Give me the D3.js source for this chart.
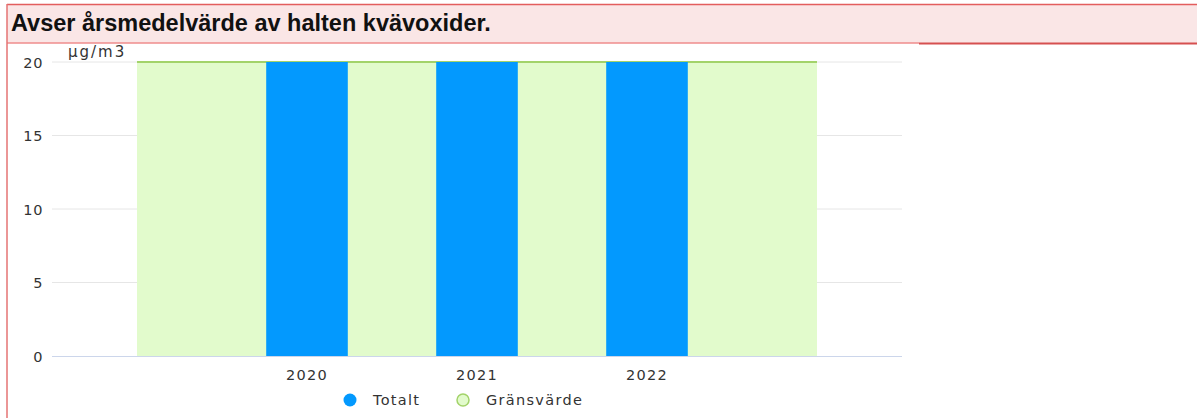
<!DOCTYPE html>
<html>
<head>
<meta charset="utf-8">
<script src="https://cdn.jsdelivr.net/npm/d3@7"></script>
<style>
  body { margin: 0; background: #fff; }
  svg { display: block; }
  .tick text { font-family: "DejaVu Sans", sans-serif; font-size: 14.5px; letter-spacing: 1.3px; fill: #333; }
</style>
</head>
<body>
<div id="wrapper"></div>
<script>
// data
const titleText = "Avser årsmedelvärde av halten kvävoxider."
const unitLabel = "µg/m3"
const categories = ["", "2020", "2021", "2022", ""]
const totalt = [null, 20, 20, 20, null]
const gransvarde = [20, 20, 20, 20, 20]
const yTicks = [0, 5, 10, 15, 20]
const seriesNames = ["Totalt", "Gränsvärde"]

const width = 1197
const height = 418
let dimensions = {
  width: width,
  height: height,
  margin: { top: 62, right: 295, bottom: 62, left: 52 },
}
dimensions.boundedWidth = dimensions.width - dimensions.margin.left - dimensions.margin.right
dimensions.boundedHeight = dimensions.height - dimensions.margin.top - dimensions.margin.bottom

const blue = "#0399fe"
const greenFill = "#e2fbcc"
const greenLine = "#a3d36a"

const wrapper = d3.select("#wrapper")
  .append("svg")
  .attr("width", width)
  .attr("height", height)

// title bar
wrapper.append("rect")
  .attr("x", 7).attr("y", 4)
  .attr("width", width).attr("height", 39)
  .attr("fill", "#fae6e6")
wrapper.append("line")
  .attr("x1", 7).attr("x2", width).attr("y1", 4.5).attr("y2", 4.5)
  .attr("stroke", "#e35d5d").attr("stroke-width", 1.5)
wrapper.append("line")
  .attr("x1", 7).attr("x2", 919).attr("y1", 43).attr("y2", 43)
  .attr("stroke", "#ef8c8c").attr("stroke-width", 1.5)
wrapper.append("line")
  .attr("x1", 919).attr("x2", width).attr("y1", 43.5).attr("y2", 43.5)
  .attr("stroke", "#d65050").attr("stroke-width", 1.8)
wrapper.append("line")
  .attr("x1", 7).attr("x2", 7).attr("y1", 4).attr("y2", height)
  .attr("stroke", "#e57373").attr("stroke-width", 1.5)
wrapper.append("text")
  .attr("x", 11).attr("y", 31)
  .attr("font-family", "Liberation Sans, Arial, sans-serif")
  .attr("font-weight", "bold")
  .attr("font-size", 23.5)
  .attr("fill", "#111")
  .text(titleText)

const bounds = wrapper.append("g")
  .attr("transform", `translate(${dimensions.margin.left}, ${dimensions.margin.top})`)

// scales
const xScale = d3.scaleBand()
  .domain(d3.range(categories.length))
  .range([0, dimensions.boundedWidth])
  .padding(0)
const xCenter = i => xScale(i) + xScale.bandwidth() / 2

const yScale = d3.scaleLinear()
  .domain([0, 20])
  .range([dimensions.boundedHeight, 0])

// grid
bounds.append("g")
  .selectAll("line")
  .data(yTicks.filter(d => d > 0))
  .join("line")
    .attr("x1", 0).attr("x2", dimensions.boundedWidth)
    .attr("y1", d => yScale(d)).attr("y2", d => yScale(d))
    .attr("stroke", "#e6e6e6")

// Gränsvärde area
const areaGen = d3.area()
  .x((d, i) => xCenter(i))
  .y0(yScale(0))
  .y1(d => yScale(d))
bounds.append("path")
  .datum(gransvarde)
  .attr("d", areaGen)
  .attr("fill", greenFill)
bounds.append("path")
  .datum(gransvarde)
  .attr("d", d3.line().x((d, i) => xCenter(i)).y(d => yScale(d)))
  .attr("fill", "none")
  .attr("stroke", greenLine)
  .attr("stroke-width", 2)

// Totalt columns
const colWidth = xScale.bandwidth() * 0.48
bounds.append("g")
  .selectAll("rect")
  .data(totalt.map((v, i) => ({ v, i })).filter(d => d.v != null))
  .join("rect")
    .attr("x", d => xCenter(d.i) - colWidth / 2)
    .attr("y", d => yScale(d.v))
    .attr("width", colWidth)
    .attr("height", d => yScale(0) - yScale(d.v))
    .attr("fill", blue)

// baseline
bounds.append("line")
  .attr("x1", 0).attr("x2", dimensions.boundedWidth)
  .attr("y1", yScale(0) + 0.5).attr("y2", yScale(0) + 0.5)
  .attr("stroke", "#ccd6eb")

// axes
const yAxisGenerator = d3.axisLeft(yScale)
  .tickValues(yTicks)
  .tickSize(0)
  .tickPadding(9)
const yAxis = bounds.append("g").call(yAxisGenerator)
yAxis.select(".domain").remove()
yAxis.selectAll(".tick text").attr("dy", "0.35em").style("letter-spacing", "0.6px")

const xAxisGenerator = d3.axisBottom(xScale)
  .tickFormat(i => categories[i])
  .tickSize(0)
  .tickPadding(14)
const xAxis = bounds.append("g")
  .attr("transform", `translate(0, ${dimensions.boundedHeight})`)
  .call(xAxisGenerator)
xAxis.select(".domain").remove()

// unit label
bounds.append("text")
  .attr("x", 16).attr("y", -5)
  .attr("font-family", "DejaVu Sans, sans-serif")
  .attr("font-size", 15)
  .attr("letter-spacing", 2)
  .attr("fill", "#333")
  .text(unitLabel)

// legend
const legend = wrapper.append("g")
  .attr("transform", "translate(350, 400)")
const legendItems = legend.selectAll("g")
  .data(seriesNames)
  .join("g")
    .attr("transform", (d, i) => `translate(${i * 113}, 0)`)
legendItems.append("circle")
  .attr("r", d => d == "Totalt" ? 6.5 : 6)
  .attr("fill", d => d == "Totalt" ? blue : greenFill)
  .attr("stroke", d => d == "Totalt" ? "none" : greenLine)
  .attr("stroke-width", 1.5)
legendItems.append("text")
  .attr("x", 23)
  .attr("y", 5)
  .attr("font-family", "DejaVu Sans, sans-serif")
  .attr("font-size", 14.5)
  .attr("letter-spacing", 1.3)
  .attr("fill", "#333")
  .text(d => d)
</script>
</body>
</html>
